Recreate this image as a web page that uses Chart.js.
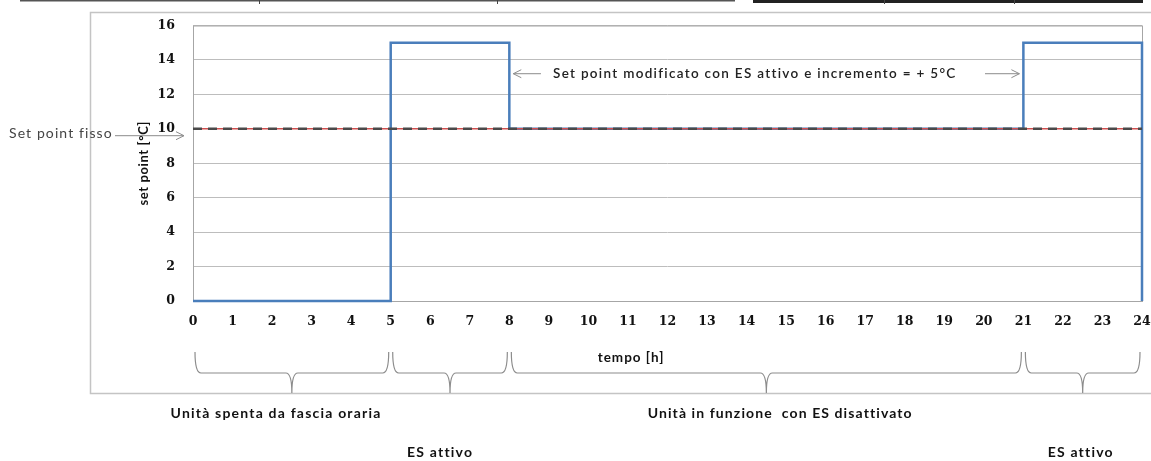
<!DOCTYPE html>
<html>
<head>
<meta charset="utf-8">
<script src="https://cdn.jsdelivr.net/npm/chart.js@4.4.1/dist/chart.umd.min.js"></script>
<style>
  html, body { margin: 0; padding: 0; background: #fff; }
  #wrap { width: 1151px; height: 461px; position: relative; }
</style>
</head>
<body>
<div id="wrap"><canvas id="chart" width="1151" height="461"></canvas></div>
<script>
// step profile of the set point over the day
const hours    = [0, 5, 5, 8, 8, 21, 21, 24, 24];
const setPoint = [0, 0, 15, 15, 10, 10, 15, 15, 0];

// fixed set point reference line
const fixedHours = [0, 24];
const fixedValue = [10, 10];

// ranges marked by braces under the axis
const braceRanges = [[0, 5], [5, 8], [8, 21], [21, 24]];

const xTicks = { min: 0, max: 24, step: 1 };
const yTicks = { min: 0, max: 16, step: 2 };

const NUM_FONT = '"DejaVu Serif", serif';
const TXT_FONT = 'Lato, "Open Sans", sans-serif';

function pts(xs, ys) {
    return xs.map((x, i) => ({ x: x, y: ys[i] }));
}

// draw a curly brace opening downwards between x1 and x2
function brace(ctx, x1, x2, yTop, yH, yTip) {
    const xm = (x1 + x2) / 2, r = 6;
    ctx.beginPath();
    ctx.moveTo(x1, yTop);
    ctx.quadraticCurveTo(x1, yH, x1 + r, yH);
    ctx.lineTo(xm - r, yH);
    ctx.quadraticCurveTo(xm, yH, xm, yTip);
    ctx.quadraticCurveTo(xm, yH, xm + r, yH);
    ctx.lineTo(x2 - r, yH);
    ctx.quadraticCurveTo(x2, yH, x2, yTop);
    ctx.stroke();
}

function arrow(ctx, xa, xb, y) {
    // thin line from xa to xb with an open head at xb
    const dir = xb > xa ? 1 : -1;
    ctx.beginPath();
    ctx.moveTo(xa, y);
    ctx.lineTo(xb, y);
    ctx.moveTo(xb - dir * 8, y - 4);
    ctx.lineTo(xb, y);
    ctx.lineTo(xb - dir * 8, y + 4);
    ctx.stroke();
}

function label(ctx, text, x, y, spacing) {
    ctx.letterSpacing = spacing + 'px';
    ctx.fillText(text, x, y);
    ctx.letterSpacing = '0px';
}

const decorations = {
    id: 'decorations',
    beforeDraw(chart) {
        const ctx = chart.ctx;
        ctx.save();
        // remnants of the table above the picture
        ctx.strokeStyle = '#555';
        ctx.lineWidth = 1.5;
        ctx.beginPath();
        ctx.moveTo(20, 0.8); ctx.lineTo(735, 0.8);
        ctx.stroke();
        ctx.strokeStyle = '#222';
        ctx.lineWidth = 4;
        ctx.beginPath();
        ctx.moveTo(753, 1); ctx.lineTo(1143, 1);
        ctx.stroke();
        ctx.lineWidth = 1;
        ctx.strokeStyle = '#444';
        [259, 497, 884, 1014].forEach(x => {
            ctx.beginPath(); ctx.moveTo(x + 0.5, 0); ctx.lineTo(x + 0.5, 4); ctx.stroke();
        });
        // outer chart frame
        ctx.strokeStyle = '#c4c4c4';
        ctx.lineWidth = 1.5;
        ctx.beginPath();
        ctx.moveTo(1151, 12.5);
        ctx.lineTo(90.5, 12.5);
        ctx.lineTo(90.5, 393.5);
        ctx.lineTo(1151, 393.5);
        ctx.stroke();
        ctx.restore();
    },
    beforeDatasetsDraw(chart) {
        // plot area border, under the lines
        const ctx = chart.ctx;
        const a = chart.chartArea;
        ctx.save();
        ctx.strokeStyle = '#a6a6a6';
        ctx.lineWidth = 1;
        ctx.strokeRect(a.left + 0.5, a.top + 0.5, a.right - a.left, a.bottom - a.top);
        ctx.restore();
    },
    afterDraw(chart) {
        const ctx = chart.ctx;
        const xs = chart.scales.x, ys = chart.scales.y;
        ctx.save();

        // axis titles
        ctx.fillStyle = '#111';
        ctx.font = 'bold 13px ' + TXT_FONT;
        ctx.textAlign = 'center';
        ctx.textBaseline = 'middle';
        ctx.save();
        ctx.translate(144, ys.getPixelForValue(8));
        ctx.rotate(-Math.PI / 2);
        label(ctx, 'set point [\u00B0C]', 0, 0, 0.6);
        ctx.restore();
        ctx.font = 'bold 13.5px ' + TXT_FONT;
        label(ctx, 'tempo [h]', xs.getPixelForValue(11.08), 358, 1);

        // annotations
        ctx.strokeStyle = '#8c8c8c';
        ctx.lineWidth = 1;
        ctx.font = '14px ' + TXT_FONT;
        ctx.fillStyle = '#444';
        ctx.textAlign = 'left';
        const yFix = ys.getPixelForValue(9.6);
        label(ctx, 'Set point fisso', 9, yFix - 2, 1.1);
        arrow(ctx, 115, 184, yFix);

        const yMod = ys.getPixelForValue(13.2);
        ctx.fillStyle = '#222';
        ctx.font = '600 13.5px ' + TXT_FONT;
        label(ctx, 'Set point modificato con ES attivo e incremento = + 5\u00B0C', 553, yMod, 1.3);
        arrow(ctx, xs.getPixelForValue(8.8), xs.getPixelForValue(8.1), yMod);
        arrow(ctx, 985, xs.getPixelForValue(20.9), yMod);

        // braces under the axis
        ctx.strokeStyle = '#8c8c8c';
        ctx.lineWidth = 1.2;
        braceRanges.forEach(r => {
            brace(ctx, xs.getPixelForValue(r[0]) + 2, xs.getPixelForValue(r[1]) - 2, 352, 373, 393);
        });

        // labels under the braces
        ctx.fillStyle = '#111';
        ctx.font = 'bold 14px ' + TXT_FONT;
        ctx.textAlign = 'center';
        label(ctx, 'Unit\u00E0 spenta da fascia oraria', xs.getPixelForValue(2.1), 413, 1.2);
        label(ctx, 'ES attivo', xs.getPixelForValue(6.25), 452, 1.2);
        label(ctx, 'Unit\u00E0 in funzione  con ES disattivato', xs.getPixelForValue(14.85), 413, 1.1);
        label(ctx, 'ES attivo', xs.getPixelForValue(22.45), 452, 1.2);
        ctx.restore();
    }
};

new Chart(document.getElementById('chart'), {
    type: 'line',
    data: {
        datasets: [
            {
                data: pts(fixedHours, fixedValue),
                borderColor: '#4a4a4a',
                borderWidth: 2.5,
                borderDash: [9, 6],
                pointRadius: 0
            },
            {
                data: pts(fixedHours, fixedValue),
                borderColor: '#d05050',
                borderWidth: 1.5,
                pointRadius: 0
            },
            {
                data: pts(hours, setPoint),
                borderColor: '#4a7ebb',
                borderWidth: 2.5,
                pointRadius: 0,
                clip: false
            }
        ]
    },
    options: {
        responsive: false,
        animation: false,
        layout: { padding: { left: 0, right: 9, top: 22, bottom: 0 } },
        plugins: { legend: { display: false }, tooltip: { enabled: false } },
        scales: {
            x: {
                type: 'linear',
                min: xTicks.min, max: xTicks.max,
                afterFit: s => { s.height = 160; s.paddingLeft = 0; s.paddingRight = 0; },
                grid: { display: false, drawTicks: false },
                border: { display: false },
                ticks: {
                    stepSize: xTicks.step,
                    padding: 13,
                    color: '#111',
                    maxRotation: 0,
                    autoSkip: false,
                    font: { family: NUM_FONT, weight: 'bold', size: 12.5 }
                }
            },
            y: {
                min: yTicks.min, max: yTicks.max,
                afterFit: s => { s.width = 193; },
                grid: { color: '#bdbdbd', lineWidth: 1, drawTicks: false },
                border: { display: false },
                ticks: {
                    stepSize: yTicks.step,
                    padding: 18,
                    color: '#111',
                    font: { family: NUM_FONT, weight: 'bold', size: 12.5 }
                }
            }
        }
    },
    plugins: [decorations]
});
</script>
</body>
</html>
